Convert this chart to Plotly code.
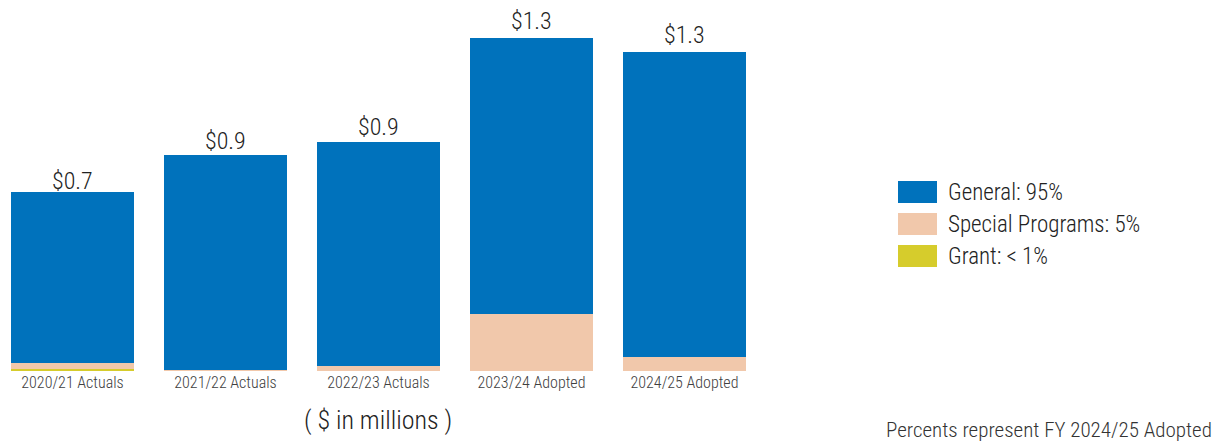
import plotly.graph_objects as go

categories = ["2020/21 Actuals", "2021/22 Actuals", "2022/23 Actuals", "2023/24 Adopted", "2024/25 Adopted"]
grant = [0.008, 0.001, 0.0, 0.0, 0.002]
special = [0.024, 0.004, 0.020, 0.228, 0.056]
general = [0.684, 0.859, 0.896, 1.104, 1.218]

series_names = ["General", "Special Programs", "Grant"]
series_pct = ["95%", "5%", "< 1%"]
colors = {"General": "#0072BC", "Special Programs": "#F1C8AB", "Grant": "#D6CC2C"}

totals = [g + s + gr for g, s, gr in zip(general, special, grant)]
total_labels = [f"${t:.1f}" for t in totals]

FONT = "Roboto Condensed, Liberation Sans Narrow, Roboto, sans-serif"

# page has an 8px body margin; the figure is sized and positioned to compensate
OFF = 8
W, H = 1229 - OFF, 443 - OFF
BOTTOM = 72
PH = H - BOTTOM  # plot area height


def px(xs):
    return (xs - OFF) / W


def py(ys):
    return 1 - (ys - OFF) / PH


fig = go.Figure()
fig.add_trace(go.Bar(x=categories, y=grant, name="Grant", marker=dict(color=colors["Grant"], line=dict(width=0))))
fig.add_trace(go.Bar(x=categories, y=special, name="Special Programs", marker=dict(color=colors["Special Programs"], line=dict(width=0))))
fig.add_trace(go.Bar(x=categories, y=general, name="General", marker=dict(color=colors["General"], line=dict(width=0))))

annotations = []
# total labels above bars
label_shift = [-5, -2, -1, 1, 1]
for cat, tot, lab, sh in zip(categories, totals, total_labels, label_shift):
    annotations.append(dict(text=lab, xref="x", yref="y", x=cat, y=tot, yanchor="bottom", yshift=sh,
                            showarrow=False, font=dict(family=FONT, size=24, color="#222222", weight=300)))

# legend with large swatches
shapes = []
row_y = [192, 224, 256]
for name, pct, yc in zip(series_names, series_pct, row_y):
    shapes.append(dict(type="rect", xref="paper", yref="paper", x0=px(898), x1=px(937),
                       y0=py(yc + 11), y1=py(yc - 11),
                       fillcolor=colors[name], line=dict(width=0)))
    annotations.append(dict(text=f"{name}: {pct}", xref="paper", yref="paper", x=px(946), y=py(yc),
                            xanchor="left", yanchor="middle", showarrow=False,
                            font=dict(family=FONT, size=23, color="#222222", weight=300)))

annotations.append(dict(text="( $ in millions )", xref="paper", yref="paper", x=px(378), y=py(420),
                        xanchor="center", yanchor="middle", showarrow=False,
                        font=dict(family=FONT, size=26, color="#222222", weight=300)))
annotations.append(dict(text="Percents represent FY 2024/25 Adopted", xref="paper", yref="paper", x=px(1214), y=py(430),
                        xanchor="right", yanchor="middle", showarrow=False,
                        font=dict(family=FONT, size=21, color="#333333", weight=300)))

step = 153.0
c0 = 72.5 - OFF
fig.update_layout(
    width=W, height=H,
    margin=dict(l=0, r=0, t=0, b=BOTTOM),
    barmode="stack", bargap=0.2,
    plot_bgcolor="white", paper_bgcolor="white",
    showlegend=False,
    shapes=shapes, annotations=annotations,
    xaxis=dict(range=[-c0 / step, (W - c0) / step], showgrid=False, showline=False, ticks="",
               tickfont=dict(family=FONT, size=16, color="#404040", weight=300), zeroline=False),
    yaxis=dict(range=[0, PH / 250.0], visible=False),
)

fig.write_html("out.html")
